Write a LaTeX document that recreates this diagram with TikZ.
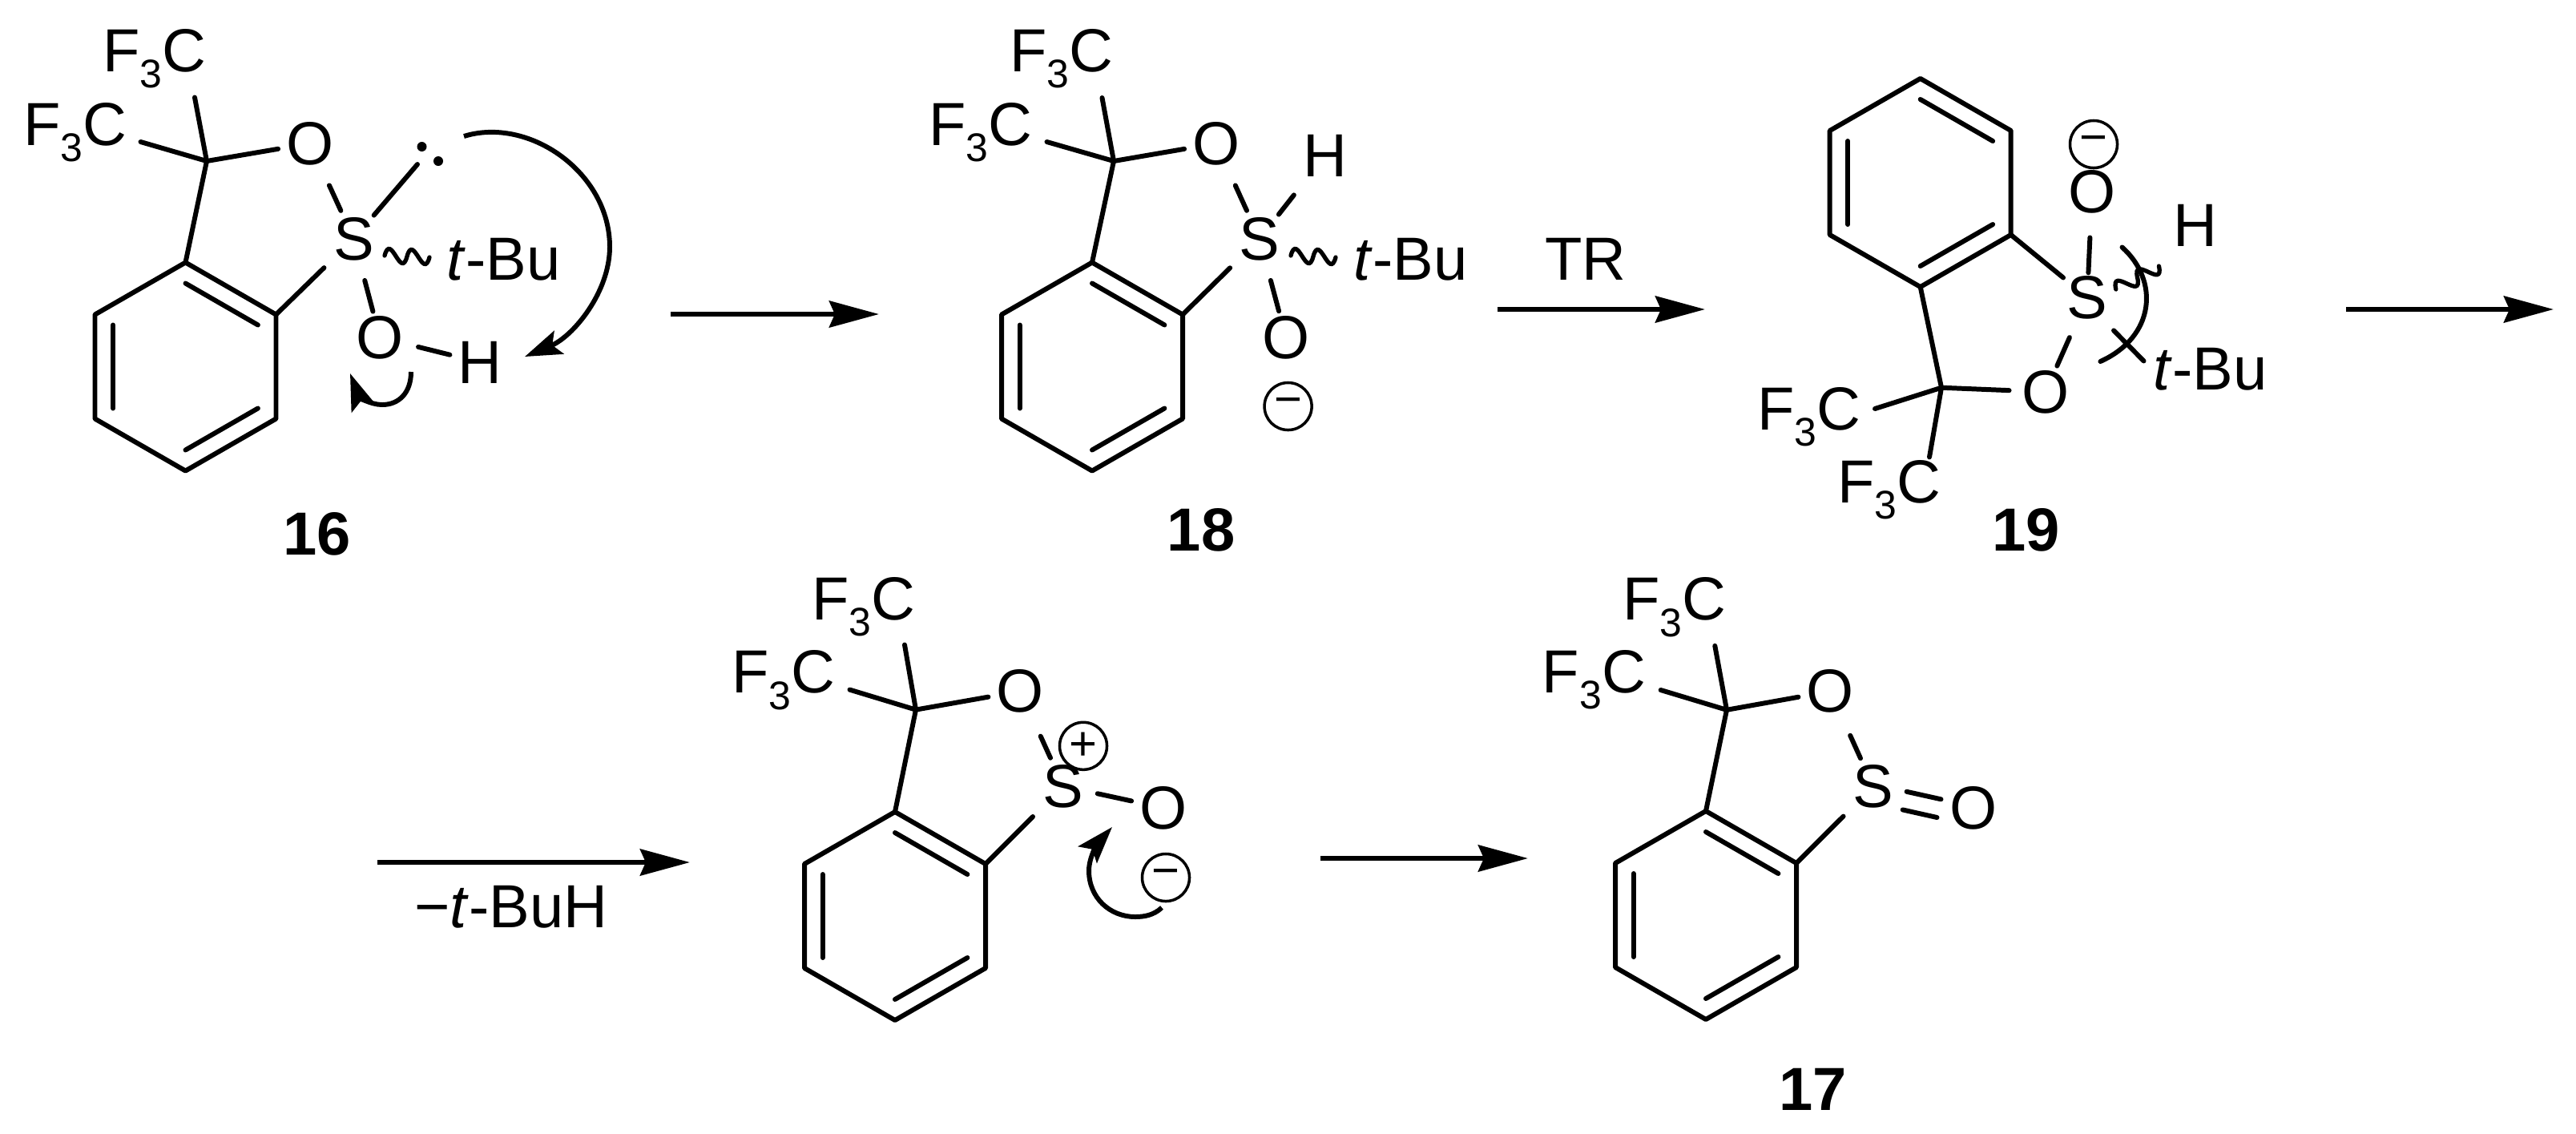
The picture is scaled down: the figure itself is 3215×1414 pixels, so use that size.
\documentclass[tikz,border=0pt]{standalone}
\usepackage{fontspec}
\setmainfont{Liberation Sans}
\usetikzlibrary{arrows.meta,calc}

\newcommand{\labelfont}{\fontsize{21.6}{25}\selectfont}

\tikzset{
  bond/.style={line width=1.7pt, line join=round, line cap=round},
  atom/.style={circle, inner sep=0pt, minimum size=.76cm},
  txt/.style={inner sep=0pt},
  cpd/.style={inner sep=0pt, font=\labelfont\bfseries},
  charge/.style={draw, circle, inner sep=0pt, minimum size=.59cm, line width=1pt, font=\fontsize{17}{17}\selectfont},
  rxn/.style={line width=1.75pt, -{Stealth[length=.62cm, width=.33cm, inset=.07cm]}},
  push/.style={line width=1.7pt, -{Stealth[length=.46cm, width=.31cm, inset=.09cm]}},
  wavy/.style={line width=1.5pt, line cap=round},
}

\newcommand{\cfthree}{F\raisebox{-5.8pt}{\fontsize{14.2}{14}\selectfont 3}C}

% benzene ring, named #1a..#1f clockwise from the top, centre (#2,#3)
\newcommand{\benzring}[3]{
  \coordinate (#1m) at (#2,#3);
  \coordinate (#1a) at (#2,#3-130);
  \coordinate (#1b) at (#2+113,#3-65);
  \coordinate (#1c) at (#2+113,#3+65);
  \coordinate (#1d) at (#2,#3+130);
  \coordinate (#1e) at (#2-113,#3+65);
  \coordinate (#1f) at (#2-113,#3-65);
  \draw[bond] (#1a) -- (#1b) -- (#1c) -- (#1d) -- (#1e) -- (#1f) -- cycle;
  \draw[bond] ($(#1a)!.2!(#1m)$) -- ($(#1b)!.2!(#1m)$);
  \draw[bond] ($(#1c)!.2!(#1m)$) -- ($(#1d)!.2!(#1m)$);
  \draw[bond] ($(#1e)!.2!(#1m)$) -- ($(#1f)!.2!(#1m)$);
}

\begin{document}
\begin{tikzpicture}[x=.01cm, y=-.01cm, every node/.append style={font=\labelfont}]
  \useasboundingbox (0,0) rectangle (3215,1414);

  % Compound 16
  \benzring{r16}{231.5}{457.5}
  \coordinate (cq16) at (258,201);
  \coordinate (lp16) at (521,205);
  \node[atom] (o16a) at (387,179) {O};
  \node[atom] (s16) at (441.5,298) {S};
  \node[atom] (o16b) at (474,421) {O};
  \node[atom] (h16) at (599,452) {H};
  \node[txt, anchor=base east] (cf16a) at (258,89.5) {\cfthree};
  \node[txt, anchor=base east] (cf16b) at (159,181) {\cfthree};
  \node[txt, anchor=base west] (tbu16) at (557,349) {\textit{t}-Bu};
  \node[cpd] (lab16) at (396,666) {16};
  \draw[bond] (r16a) -- (cq16);
  \draw[bond] (cq16) -- (o16a);
  \draw[bond] (cq16) -- ([xshift=-.15cm, yshift=-.32cm]cf16a.base east);
  \draw[bond] (cq16) -- ([xshift=.165cm, yshift=.04cm]cf16b.base east);
  \draw[bond, shorten <=.17cm] (o16a) -- (s16);
  \draw[bond, shorten >=.13cm] (r16b) -- (s16);
  \draw[bond] (s16) -- (lp16);
  \draw[bond, shorten <=.15cm, shorten >=-.07cm] (s16) -- (o16b);
  \draw[bond, shorten <=.09cm] (o16b) -- (h16);
  \coordinate (wa16) at (480,319);
  \coordinate (wm16) at (508,320);
  \coordinate (wb16) at (536,321);
  \draw[wavy] (wa16) .. controls +(8,-30) and +(-8,30) .. (wm16) .. controls +(8,-30) and +(-8,30) .. (wb16);
  \fill (526.5,183) circle[radius=.06cm];
  \fill (547,201) circle[radius=.06cm];
  \draw[push] (579,170) .. controls (660,145) and (761,215) .. (761,308) .. controls (761,365) and (715,420) .. (655,445);
  \draw[push] (513,464) .. controls (513,490) and (498,505) .. (477,505) .. controls (462,505) and (448,495) .. (437,466);

  % 16 to 18
  \coordinate (a1s) at (837,392);
  \coordinate (a1e) at (1097,392);
  \draw[rxn] (a1s) -- (a1e);

  % Compound 18
  \benzring{r18}{1363}{457.5}
  \coordinate (cq18) at (1390,201);
  \node[atom] (o18a) at (1518,179) {O};
  \node[atom] (s18) at (1572,298) {S};
  \node[atom] (o18b) at (1605,421.5) {O};
  \node[atom] (h18) at (1653.6,194) {H};
  \node[txt, anchor=base east] (cf18a) at (1390,89.5) {\cfthree};
  \node[txt, anchor=base east] (cf18b) at (1289,181) {\cfthree};
  \node[txt, anchor=base west] (tbu18) at (1689,349) {\textit{t}-Bu};
  \node[charge] (q18) at (1607.6,507) {−};
  \node[cpd] (lab18) at (1499,661) {18};
  \draw[bond] (r18a) -- (cq18);
  \draw[bond] (cq18) -- (o18a);
  \draw[bond] (cq18) -- ([xshift=-.145cm, yshift=-.325cm]cf18a.base east);
  \draw[bond] (cq18) -- ([xshift=.175cm, yshift=.04cm]cf18b.base east);
  \draw[bond, shorten <=.17cm] (o18a) -- (s18);
  \draw[bond, shorten >=.13cm] (r18b) -- (s18);
  \draw[bond, shorten >=.24cm] (s18) -- (h18);
  \draw[bond, shorten <=.15cm, shorten >=-.06cm] (s18) -- (o18b);
  \coordinate (wa18) at (1611,319);
  \coordinate (wm18) at (1639,320);
  \coordinate (wb18) at (1667,321);
  \draw[wavy] (wa18) .. controls +(8,-30) and +(-8,30) .. (wm18) .. controls +(8,-30) and +(-8,30) .. (wb18);

  % 18 to 19
  \coordinate (a2s) at (1869,386);
  \coordinate (a2e) at (2128,386);
  \draw[rxn] (a2s) -- (a2e);
  \node[txt, anchor=base] (lab2) at (1979,349) {TR};

  % Compound 19
  \benzring{r19}{2396.7}{228}
  \coordinate (cq19) at (2423,483.7);
  \node[atom] (s19) at (2605,371) {S};
  \node[atom] (o19a) at (2611,239) {O};
  \node[atom] (o19b) at (2553,489) {O};
  \node[atom] (h19) at (2740,281) {H};
  \node[txt, anchor=base east] (cf19a) at (2323,536) {\cfthree};
  \node[txt, anchor=base east] (cf19b) at (2423,627) {\cfthree};
  \node[txt, anchor=base west] (tbu19) at (2686.7,486) {\textit{t}-Bu};
  \node[charge] (q19) at (2613,180) {−};
  \node[cpd] (lab19) at (2528.6,661) {19};
  \draw[bond] (r19d) -- (cq19);
  \draw[bond, shorten >=.05cm] (cq19) -- (o19b);
  \draw[bond] (cq19) -- ([xshift=.17cm, yshift=.26cm]cf19a.base east);
  \draw[bond] (cq19) -- ([xshift=-.15cm, yshift=.566cm]cf19b.base east);
  \draw[bond] (r19c) -- (s19);
  \draw[bond, shorten <=-.08cm, shorten >=.17cm] (s19) -- (o19a);
  \draw[bond, shorten <=.16cm, shorten >=-.05cm] (s19) -- (o19b);
  \coordinate (wa19) at (2640.8,361);
  \coordinate (wm19) at (2667.6,346.5);
  \coordinate (wb19) at (2694.4,332);
  \draw[wavy] (wa19) .. controls +(-7,-30) and +(7,30) .. (wm19) .. controls +(-7,-30) and +(7,30) .. (wb19);
  % bow and crossing stroke at the t-Bu end
  \coordinate (ba19) at (2648.5,308.5);
  \coordinate (bb19) at (2621.4,451);
  \draw[bond] (ba19) .. controls (2695,350) and (2690,420) .. (bb19);
  \coordinate (xa19) at (2638,412.4);
  \coordinate (xb19) at (2675.5,450.4);
  \draw[bond] (xa19) -- (xb19);

  % 19 onwards
  \coordinate (a3s) at (2928,386);
  \coordinate (a3e) at (3187,386);
  \draw[rxn] (a3s) -- (a3e);

  % loss of t-BuH
  \coordinate (a4s) at (471,1076);
  \coordinate (a4e) at (861,1076);
  \draw[rxn] (a4s) -- (a4e);
  \node[txt, anchor=base] (lab4) at (638,1157) {−\textit{t}-BuH};

  % Cation
  \benzring{rion}{1117}{1143}
  \coordinate (cqion) at (1143,885.6);
  \node[atom] (oiona) at (1273.3,862.6) {O};
  \node[atom] (sion) at (1327,981) {S};
  \node[atom] (oionb) at (1451.7,1008) {O};
  \node[txt, anchor=base east] (cfiona) at (1143,773.5) {\cfthree};
  \node[txt, anchor=base east] (cfionb) at (1043,864.6) {\cfthree};
  \node[charge] (qpion) at (1352,930.8) {+};
  \node[charge] (qmion) at (1455,1095) {−};
  \draw[bond] (riona) -- (cqion);
  \draw[bond] (cqion) -- (oiona);
  \draw[bond] (cqion) -- ([xshift=-.14cm, yshift=-.31cm]cfiona.base east);
  \draw[bond] (cqion) -- ([xshift=.175cm, yshift=.04cm]cfionb.base east);
  \draw[bond, shorten <=.21cm] (oiona) -- (sion);
  \draw[bond, shorten >=.15cm] (rionb) -- (sion);
  \draw[bond, shorten <=.05cm] (sion) -- (oionb);
  \draw[push] (1450,1132.5) .. controls (1440,1142) and (1428,1144) .. (1417,1144) .. controls (1385,1144) and (1359,1120) .. (1359,1086.5) .. controls (1359,1068) and (1372,1050) .. (1388,1032);

  % to 17
  \coordinate (a5s) at (1648,1071);
  \coordinate (a5e) at (1907,1071);
  \draw[rxn] (a5s) -- (a5e);

  % Compound 17
  \benzring{r17}{2129}{1142}
  \coordinate (cq17) at (2155,885.8);
  \node[atom] (o17a) at (2284.3,862.6) {O};
  \node[atom] (s17) at (2337.9,981.4) {S};
  \node[atom] (o17b) at (2463,1008.3) {O};
  \node[txt, anchor=base east] (cf17a) at (2155,773.8) {\cfthree};
  \node[txt, anchor=base east] (cf17b) at (2054.7,864) {\cfthree};
  \node[cpd] (lab17) at (2262.3,1359) {17};
  \draw[bond] (r17a) -- (cq17);
  \draw[bond] (cq17) -- (o17a);
  \draw[bond] (cq17) -- ([xshift=-.147cm, yshift=-.32cm]cf17a.base east);
  \draw[bond] (cq17) -- ([xshift=.18cm, yshift=.03cm]cf17b.base east);
  \draw[bond, shorten <=.2cm] (o17a) -- (s17);
  \draw[bond, shorten >=.14cm] (r17b) -- (s17);
  \draw[bond] ([xshift=.03cm, yshift=-.064cm]s17.east) -- ([yshift=.11cm]o17b.west);
  \draw[bond] ([xshift=-.02cm, yshift=-.29cm]s17.east) -- ([xshift=-.05cm, yshift=-.117cm]o17b.west);
\end{tikzpicture}
\end{document}
